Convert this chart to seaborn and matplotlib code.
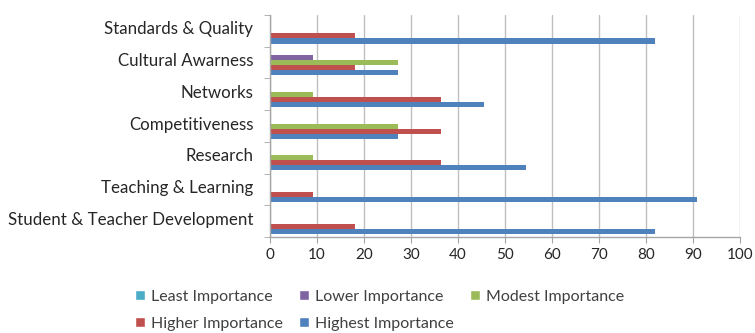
import matplotlib
matplotlib.use("Agg")
import matplotlib.pyplot as plt
import matplotlib.transforms as mtransforms
import seaborn as sns
import pandas as pd
import numpy as np
from matplotlib.ticker import FixedLocator, NullFormatter
from matplotlib.patches import Patch

categories = [
    "Standards & Quality",
    "Cultural Awarness",
    "Networks",
    "Competitiveness",
    "Research",
    "Teaching & Learning",
    "Student & Teacher Development",
]
series = ["Least Importance", "Lower Importance", "Modest Importance",
          "Higher Importance", "Highest Importance"]

least = [0, 0, 0, 0, 0, 0, 0]
lower = [0, 9.09, 0, 0, 0, 0, 0]
modest = [0, 27.27, 9.09, 27.27, 9.09, 0, 0]
higher = [18.18, 18.18, 36.36, 36.36, 36.36, 9.09, 18.18]
highest = [81.82, 27.27, 45.45, 27.27, 54.55, 90.91, 81.82]

colors = ["#4BACC6", "#8064A2", "#9BBB59", "#C0504D", "#4F81BD"]

rows = []
for name, vals in zip(series, [least, lower, modest, higher, highest]):
    for cat, v in zip(categories, vals):
        rows.append({"category": cat, "series": name, "value": v})
df = pd.DataFrame(rows)

sns.set_style("white")
plt.rcParams["font.family"] = ["Lato", "DejaVu Sans"]

fig = plt.figure(figsize=(7.55, 3.33), dpi=100)
ax = fig.add_axes([0.3576, 0.288, 0.6225, 0.667])

sns.barplot(data=df, y="category", x="value", hue="series",
            order=categories, hue_order=series, palette=colors,
            orient="h", width=0.8, saturation=1, ax=ax, legend=False,
            linewidth=0, errorbar=None)

ax.set_xlim(0, 100)
ax.set_ylim(len(categories) - 0.5, -0.5)
ax.set_xticks(np.arange(0, 101, 10))
ax.xaxis.grid(True, color="#BFBFBF", linewidth=1)
ax.set_axisbelow(True)
ax.set_xlabel("")
ax.set_ylabel("")

for side in ["top", "right"]:
    ax.spines[side].set_visible(False)
for side in ["left", "bottom"]:
    ax.spines[side].set_color("#A6A6A6")
    ax.spines[side].set_linewidth(1)

ax.tick_params(axis="y", which="major", length=0, labelsize=12.2,
               labelcolor="#262626", pad=12)
# nudge the category labels a few pixels upward
lift = mtransforms.ScaledTranslation(0, 3 / 100, fig.dpi_scale_trans)
for lbl in ax.get_yticklabels():
    lbl.set_transform(lbl.get_transform() + lift)
ax.yaxis.set_minor_locator(FixedLocator(np.arange(-0.5, len(categories), 1)))
ax.yaxis.set_minor_formatter(NullFormatter())
ax.tick_params(axis="y", which="minor", length=4, color="#A6A6A6", left=True)
ax.tick_params(axis="x", which="major", length=4, color="#A6A6A6",
               labelsize=11, labelcolor="#262626", bottom=True, pad=4)

handles = [Patch(facecolor=c, label=s) for c, s in zip(colors, series)]
order = [0, 3, 1, 4, 2]
fig.legend([handles[i] for i in order], [series[i] for i in order],
           loc="center", bbox_to_anchor=(0.503, 0.068), ncol=3, frameon=False,
           fontsize=11.5, handlelength=0.6, handleheight=0.6,
           handletextpad=0.4, columnspacing=1.0, labelspacing=0.8,
           labelcolor="#404040", borderaxespad=0, borderpad=0)

fig.savefig("out.png", dpi=100)
